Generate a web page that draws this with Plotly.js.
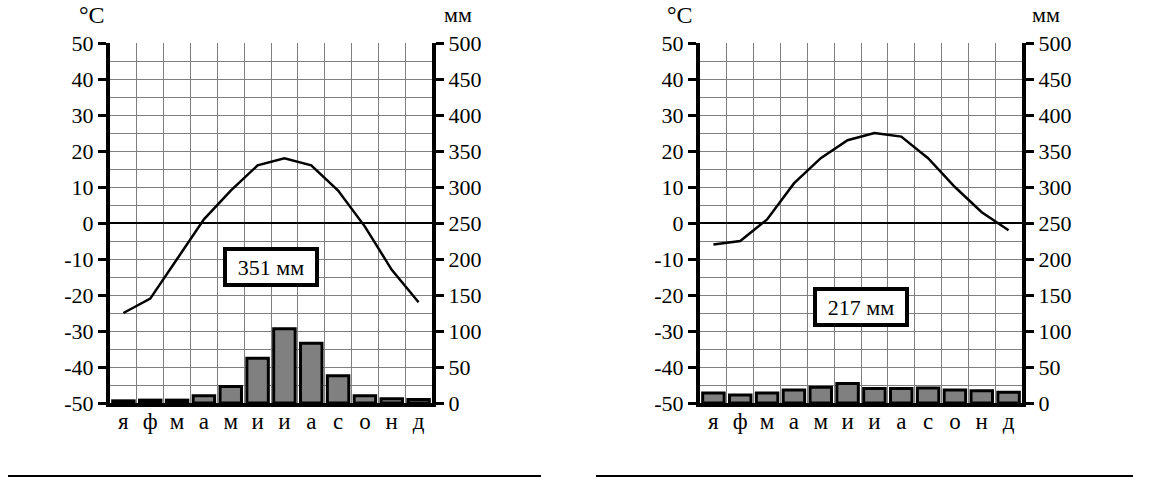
<!DOCTYPE html>
<html>
<head>
<meta charset="utf-8">
<script src="https://cdn.plot.ly/plotly-3.0.1.min.js"></script>
<style>
  html, body { margin: 0; padding: 0; background: #ffffff; }
  #chart { width: 1150px; height: 478px; }
</style>
</head>
<body>
<div id="chart"></div>
<script>
// ---- data ----
const monthIdx = [1, 2, 3, 4, 5, 6, 7, 8, 9, 10, 11, 12];
const monthLabels = ['я', 'ф', 'м', 'а', 'м', 'и', 'и', 'а', 'с', 'о', 'н', 'д'];

const tempA = [-25, -21, -10, 1, 9, 16, 18, 16, 9, -1, -13, -22];
const precipA = [3, 4, 4, 10, 23, 62, 103, 83, 38, 10, 6, 5];
const totalA = '351 мм';

const tempB = [-6, -5, 1, 11, 18, 23, 25, 24, 18, 10, 3, -2];
const precipB = [14, 11, 14, 18, 22, 27, 20, 20, 21, 18, 17, 15];
const totalB = '217 мм';

const tempTickVals = [-50, -40, -30, -20, -10, 0, 10, 20, 30, 40, 50];
const tempTickText = ['-50', '-40', '-30', '-20', '-10', '0', '10', '20', '30', '40', '50'];
const mmTickVals = [0, 50, 100, 150, 200, 250, 300, 350, 400, 450, 500];
const mmTickText = ['0', '50', '100', '150', '200', '250', '300', '350', '400', '450', '500'];

// ---- styling ----
const W = 1150, H = 478;
const FONT = '"Liberation Serif", serif';
const GRID = '#7f7f7f';
const yDom = [(H - 403) / H, (H - 43) / H];
const xDomA = [110 / W, 432 / W];
const xDomB = [700 / W, 1022 / W];

function xAxis(domain, anchor) {
  return {
    domain: domain, anchor: anchor, range: [0.5, 12.5],
    tickmode: 'array', tickvals: monthIdx, ticktext: monthLabels,
    ticks: '', showgrid: false, zeroline: false,
    showline: true, linecolor: '#000', linewidth: 4,
    ticklabelstandoff: -6,
    tickfont: { family: FONT, size: 23, color: '#000' },
    minor: { tickmode: 'linear', tick0: 0.5, dtick: 1, showgrid: true, gridcolor: GRID, gridwidth: 1, ticks: '' },
    fixedrange: true
  };
}
function tAxis(anchor) {
  return {
    domain: yDom, anchor: anchor, range: [-50, 50],
    tickmode: 'array', tickvals: tempTickVals, ticktext: tempTickText,
    ticks: 'outside', ticklen: 8, tickwidth: 3, tickcolor: '#000',
    showline: true, linecolor: '#000', linewidth: 4,
    showgrid: true, gridcolor: GRID, gridwidth: 1,
    zeroline: true, zerolinecolor: '#000', zerolinewidth: 2,
    minor: { tickmode: 'linear', tick0: -50, dtick: 5, showgrid: true, gridcolor: GRID, gridwidth: 1, ticks: '' },
    tickfont: { family: FONT, size: 22, color: '#000' },
    fixedrange: true
  };
}
function mAxis(anchor, over) {
  return {
    domain: yDom, anchor: anchor, overlaying: over, side: 'right', range: [0, 500],
    tickmode: 'array', tickvals: mmTickVals, ticktext: mmTickText,
    ticks: 'outside', ticklen: 8, tickwidth: 3, tickcolor: '#000',
    showline: true, linecolor: '#000', linewidth: 4,
    showgrid: false, zeroline: false,
    tickfont: { family: FONT, size: 22, color: '#000' },
    fixedrange: true
  };
}

const barStyle = { color: '#808080', line: { color: '#000', width: 3 } };
const lineStyle = { color: '#000', width: 2.5 };

const traces = [
  { type: 'scatter', mode: 'lines', x: monthIdx, y: tempA, xaxis: 'x', yaxis: 'y', line: lineStyle, hoverinfo: 'skip' },
  { type: 'bar', x: monthIdx, y: precipA, xaxis: 'x', yaxis: 'y2', marker: barStyle, width: 0.8, hoverinfo: 'skip' },
  { type: 'scatter', mode: 'lines', x: monthIdx, y: tempB, xaxis: 'x2', yaxis: 'y3', line: lineStyle, hoverinfo: 'skip' },
  { type: 'bar', x: monthIdx, y: precipB, xaxis: 'x2', yaxis: 'y4', marker: barStyle, width: 0.8, hoverinfo: 'skip' }
];

function boxNote(text, x, y) {
  return {
    text: text, xref: 'paper', yref: 'paper', x: x, y: y,
    xanchor: 'center', yanchor: 'middle', showarrow: false,
    font: { family: FONT, size: 22, color: '#000' },
    bgcolor: '#fff', bordercolor: '#000', borderwidth: 4, borderpad: 3,
    width: 82, height: 26
  };
}
function label(text, px, py, size) {
  return {
    text: text, xref: 'paper', yref: 'paper', x: px / W, y: (H - py) / H,
    xanchor: 'center', yanchor: 'top', showarrow: false,
    font: { family: FONT, size: size, color: '#000' }
  };
}

const layout = {
  width: W, height: H,
  margin: { l: 0, r: 0, t: 0, b: 0 },
  paper_bgcolor: '#fff', plot_bgcolor: '#fff',
  showlegend: false, bargap: 0.2,
  xaxis: xAxis(xDomA, 'y'),
  yaxis: tAxis('x'),
  yaxis2: mAxis('x', 'y'),
  xaxis2: xAxis(xDomB, 'y3'),
  yaxis3: tAxis('x2'),
  yaxis4: mAxis('x2', 'y3'),
  annotations: [
    boxNote(totalA, 271 / W, (H - 267) / H),
    boxNote(totalB, 861 / W, (H - 307) / H),
    label('°C', 92, 0, 24),
    label('мм', 458, 0, 22),
    label('°C', 680, 0, 24),
    label('мм', 1046, 0, 22)
  ],
  shapes: [
    { type: 'line', xref: 'paper', yref: 'paper', x0: 8 / W, x1: 541 / W, y0: 2 / H, y1: 2 / H, line: { color: '#000', width: 2 } },
    { type: 'line', xref: 'paper', yref: 'paper', x0: 596 / W, x1: 1133 / W, y0: 2 / H, y1: 2 / H, line: { color: '#000', width: 2 } }
  ]
};

Plotly.newPlot('chart', traces, layout, { staticPlot: true, displayModeBar: false });
</script>
</body>
</html>
